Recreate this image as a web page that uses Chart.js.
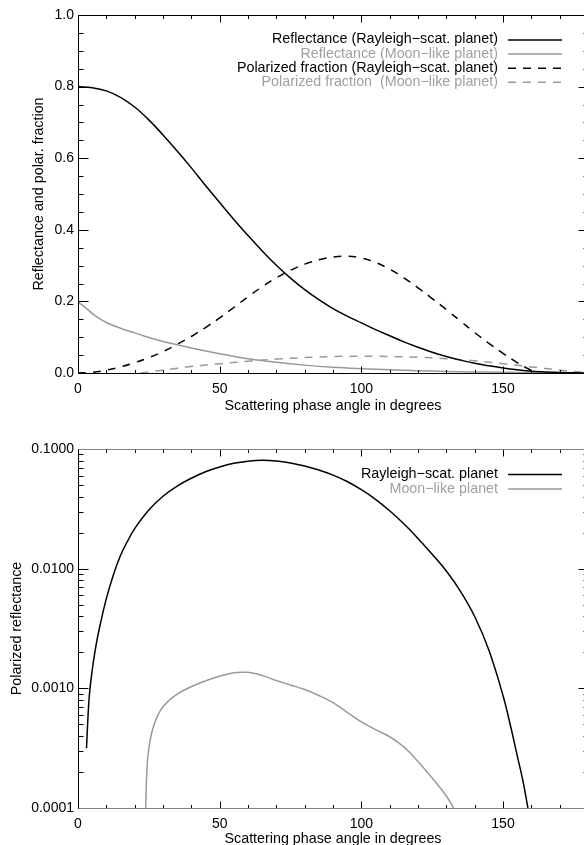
<!DOCTYPE html>
<html><head><meta charset="utf-8">
<script src="https://cdn.jsdelivr.net/npm/chart.js@4"></script>
<style>
html,body{margin:0;padding:0;background:#fff;overflow:hidden;width:584px;height:845px}
canvas{position:absolute;left:0}
#c1{top:0}
#c2{top:425px}
</style></head><body>
<canvas id="c1" width="600" height="420"></canvas>
<canvas id="c2" width="600" height="420"></canvas>
<script>
// ---------- Top panel data ----------
const reflRayAngles = [0,5,10,15,20,25,30,35,40,45,50,55,60,65,70,75,80,85,90,95,100,105,110,115,120,125,130,135,140,145,150,155,160,165,170,175,180];
const reflRayValues = [0.800,0.797,0.788,0.770,0.743,0.707,0.665,0.620,0.573,0.524,0.476,0.429,0.384,0.341,0.301,0.265,0.233,0.205,0.180,0.159,0.140,0.121,0.104,0.087,0.072,0.058,0.046,0.036,0.027,0.020,0.014,0.009,0.005,0.003,0.0015,0.0005,0.0];

const reflMoonAngles = [0,3,6,10,15,20,25,30,40,50,60,70,80,90,100,110,120,130,140,150,160,170,180];
const reflMoonValues = [0.198,0.180,0.160,0.141,0.125,0.112,0.099,0.088,0.070,0.054,0.040,0.030,0.022,0.016,0.012,0.009,0.0065,0.0045,0.003,0.002,0.001,0.0005,0.0];

const polRayAngles = [0,5,10,15,20,25,30,35,40,45,50,55,60,65,70,75,80,85,90,95,100,105,110,115,120,125,130,135,140,145,150,155,160,162,180];
const polRayValues = [0.0,0.002,0.008,0.017,0.029,0.043,0.060,0.080,0.102,0.127,0.154,0.183,0.213,0.241,0.266,0.287,0.304,0.316,0.324,0.326,0.321,0.309,0.290,0.266,0.238,0.208,0.177,0.145,0.113,0.083,0.055,0.029,0.007,0.0,0.0];

const polMoonAngles = [22,25,30,35,40,50,60,70,80,90,100,110,120,130,140,150,160,170,180];
const polMoonValues = [0.0,0.003,0.008,0.013,0.018,0.026,0.033,0.039,0.043,0.046,0.047,0.046,0.044,0.040,0.034,0.026,0.017,0.008,0.001];

// ---------- Bottom panel data ----------
const polReflRayAngles = [3,3.5,4,5,6,7,8,10,12.5,15,17.5,20,25,30,35,40,45,50,55,60,65,70,75,80,85,90,95,100,105,110,115,120,125,130,135,140,145,150,153,155,157,158.8];
const polReflRayValues = [3.16e-4,5.62e-4,8.71e-4,1.41e-3,2.04e-3,2.75e-3,3.55e-3,5.62e-3,8.91e-3,0.0129,0.0170,0.0216,0.0309,0.0403,0.0490,0.0570,0.0646,0.0708,0.0759,0.0791,0.0805,0.0794,0.0764,0.0721,0.0667,0.0605,0.0535,0.0457,0.0380,0.0305,0.0237,0.0179,0.0132,0.00955,0.00646,0.00398,0.00209,8.71e-4,4.47e-4,2.75e-4,1.70e-4,1.0e-4];

const polReflMoonAngles = [23.9,24.2,24.6,25.5,26.5,27.8,29.5,31.5,34,37,43,49,53,56,59,62,66,70,75,80,85,90,95,100,105,110,115,120,125,130,132.6];
const polReflMoonValues = [1.0e-4,1.78e-4,2.63e-4,3.72e-4,4.68e-4,5.69e-4,6.76e-4,7.67e-4,8.61e-4,9.55e-4,1.109e-3,1.245e-3,1.318e-3,1.355e-3,1.361e-3,1.334e-3,1.259e-3,1.161e-3,1.067e-3,9.77e-4,8.71e-4,7.59e-4,6.31e-4,5.25e-4,4.52e-4,3.94e-4,3.24e-4,2.45e-4,1.78e-4,1.26e-4,1.0e-4];

// ---------- Ticks / labels ----------
const xTickValues = [0,50,100,150];
const yTopTickValues = [0.0,0.2,0.4,0.6,0.8,1.0];
const yBottomTickValues = [0.0001,0.001,0.01,0.1];

const topLabels = ['Reflectance (Rayleigh\u2212scat. planet)','Reflectance (Moon\u2212like planet)','Polarized fraction (Rayleigh\u2212scat. planet)','Polarized fraction  (Moon\u2212like planet)'];
const bottomLabels = ['Rayleigh\u2212scat. planet','Moon\u2212like planet'];

const BLACK = '#000000', GRAY = '#999999', GRAYTEXT = '#a0a0a0';
const FONT = '"Liberation Sans", Arial, Helvetica, sans-serif';
Chart.defaults.font.family = FONT;
Chart.defaults.font.size = 14;
Chart.defaults.color = '#000';

function pts(a, v){ return a.map((x,i)=>({x:x, y:v[i]})); }

const xMinor = []; for (let v=0; v<=180; v+=10) if (v%50!==0) xMinor.push(v);
const yTopMinor = []; for (let k=0; k<=20; k++){ if (k%4!==0) yTopMinor.push(k*0.05); }
const yLogMinor = []; [1e-4,1e-3,1e-2].forEach(d=>{ for(let k=2;k<=9;k++) yLogMinor.push(k*d); });

const idlFrame = {
  id:'idlFrame',
  afterDatasetsDraw(chart, args, o){
    const {ctx, chartArea:a, scales:{x, y}} = chart;
    ctx.save();
    ctx.lineWidth = 1;
    const line=(x1,y1,x2,y2,c)=>{ctx.strokeStyle=c||'#000';ctx.beginPath();ctx.moveTo(x1,y1);ctx.lineTo(x2,y2);ctx.stroke();};
    const L = Math.round(a.left)+0.5, R = Math.round(a.right)+0.5, T = Math.round(a.top)+0.5, B = Math.round(a.bottom)+0.5;
    const drawX=(v,len)=>{const p=Math.round(x.getPixelForValue(v))+0.5; line(p,B,p,B-len); line(p,T,p,T+len);};
    const drawY=(v,len)=>{const p=Math.round(y.getPixelForValue(v))+0.5; line(L,p,L+len,p); line(R,p,R-len,p);};
    o.xMajor.forEach(v=>drawX(v,7)); o.xMinor.forEach(v=>drawX(v,3.5));
    o.yMajor.forEach(v=>drawY(v,10)); o.yMinor.forEach(v=>drawY(v,5));
    line(L,T,R,T,o.hColor); line(L,B,R,B,o.hColor);
    line(L,T,L,B); line(R,T,R,B);
    ctx.restore();
  }
};

const idlLegend = {
  id:'idlLegend',
  afterDraw(chart, args, o){
    const ctx = chart.ctx; ctx.save();
    ctx.font = '14.3px '+FONT; ctx.textAlign='right'; ctx.textBaseline='middle';
    chart.data.datasets.forEach((ds,i)=>{
      const yy = o.top + i*o.spacing;
      ctx.fillStyle = ds.borderColor===BLACK ? BLACK : GRAYTEXT;
      ctx.fillText(ds.label, o.textRight, yy);
      ctx.strokeStyle = ds.borderColor; ctx.lineWidth = ds.borderWidth;
      ctx.setLineDash(ds.borderDash||[]);
      ctx.beginPath(); ctx.moveTo(o.x1, yy+0.5); ctx.lineTo(o.x2, yy+0.5); ctx.stroke();
    });
    ctx.restore();
  }
};

function ds(label, a, v, color, dash){
  return {label:label, data:pts(a,v), borderColor:color, borderWidth:1.5, borderDash:dash||[], pointRadius:0, fill:false, tension:0.4};
}

function xScale(h, titlePad){
  return {type:'linear', min:0, max:180,
    afterBuildTicks:s=>{s.ticks = xTickValues.map(v=>({value:v}));},
    afterFit:s=>{s.height=h;},
    grid:{display:false, drawTicks:false}, border:{display:false},
    ticks:{padding:8, maxRotation:0, autoSkip:false, font:{size:14}, callback:v=>String(v)},
    title:{display:true, text:'Scattering phase angle in degrees', font:{size:14.3}, padding:{top:0,bottom:titlePad}}
  };
}

new Chart(document.getElementById('c1'), {
  type:'line',
  data:{datasets:[
    ds(topLabels[0], reflRayAngles, reflRayValues, BLACK),
    ds(topLabels[1], reflMoonAngles, reflMoonValues, GRAY),
    ds(topLabels[2], polRayAngles, polRayValues, BLACK, [8,7]),
    ds(topLabels[3], polMoonAngles, polMoonValues, GRAY, [8,7])
  ]},
  options:{
    responsive:false, animation:false, devicePixelRatio:1,
    layout:{padding:{top:15, right:12, left:0, bottom:0}},
    scales:{
      x:xScale(47, 5),
      y:{type:'linear', min:0, max:1,
        afterBuildTicks:s=>{s.ticks = yTopTickValues.map(v=>({value:v}));},
        afterFit:s=>{s.width=78;},
        grid:{display:false, drawTicks:false}, border:{display:false},
        ticks:{padding:4, font:{size:14}, callback:v=>Number(v).toFixed(1)},
        title:{display:true, text:'Reflectance and polar. fraction', font:{size:14.3}, padding:{top:30,bottom:0}}
      }
    },
    plugins:{legend:{display:false}, tooltip:{enabled:false},
      idlFrame:{xMajor:xTickValues, xMinor:xMinor, yMajor:yTopTickValues, yMinor:yTopMinor, hColor:'#000'},
      idlLegend:{top:39.5, spacing:14.1, textRight:498, x1:508, x2:562}
    }
  },
  plugins:[idlFrame, idlLegend]
});

new Chart(document.getElementById('c2'), {
  type:'line',
  data:{datasets:[
    ds(bottomLabels[0], polReflRayAngles, polReflRayValues, BLACK),
    ds(bottomLabels[1], polReflMoonAngles, polReflMoonValues, GRAY)
  ]},
  options:{
    responsive:false, animation:false, devicePixelRatio:1,
    layout:{padding:{top:24, right:12, left:0, bottom:0}},
    scales:{
      x:xScale(37, -3),
      y:{type:'logarithmic', min:0.0001, max:0.1,
        afterBuildTicks:s=>{s.ticks = yBottomTickValues.map(v=>({value:v}));},
        afterFit:s=>{s.width=78;},
        grid:{display:false, drawTicks:false}, border:{display:false},
        ticks:{padding:4, font:{size:14}, callback:v=>Number(v).toFixed(4)},
        title:{display:true, text:'Polarized reflectance', font:{size:14.3}, padding:{top:8,bottom:0}}
      }
    },
    plugins:{legend:{display:false}, tooltip:{enabled:false},
      idlFrame:{xMajor:xTickValues, xMinor:xMinor, yMajor:yBottomTickValues, yMinor:yLogMinor, hColor:'#808080'},
      idlLegend:{top:49, spacing:14.6, textRight:498, x1:508, x2:562}
    }
  },
  plugins:[idlFrame, idlLegend]
});
</script>
</body></html>
